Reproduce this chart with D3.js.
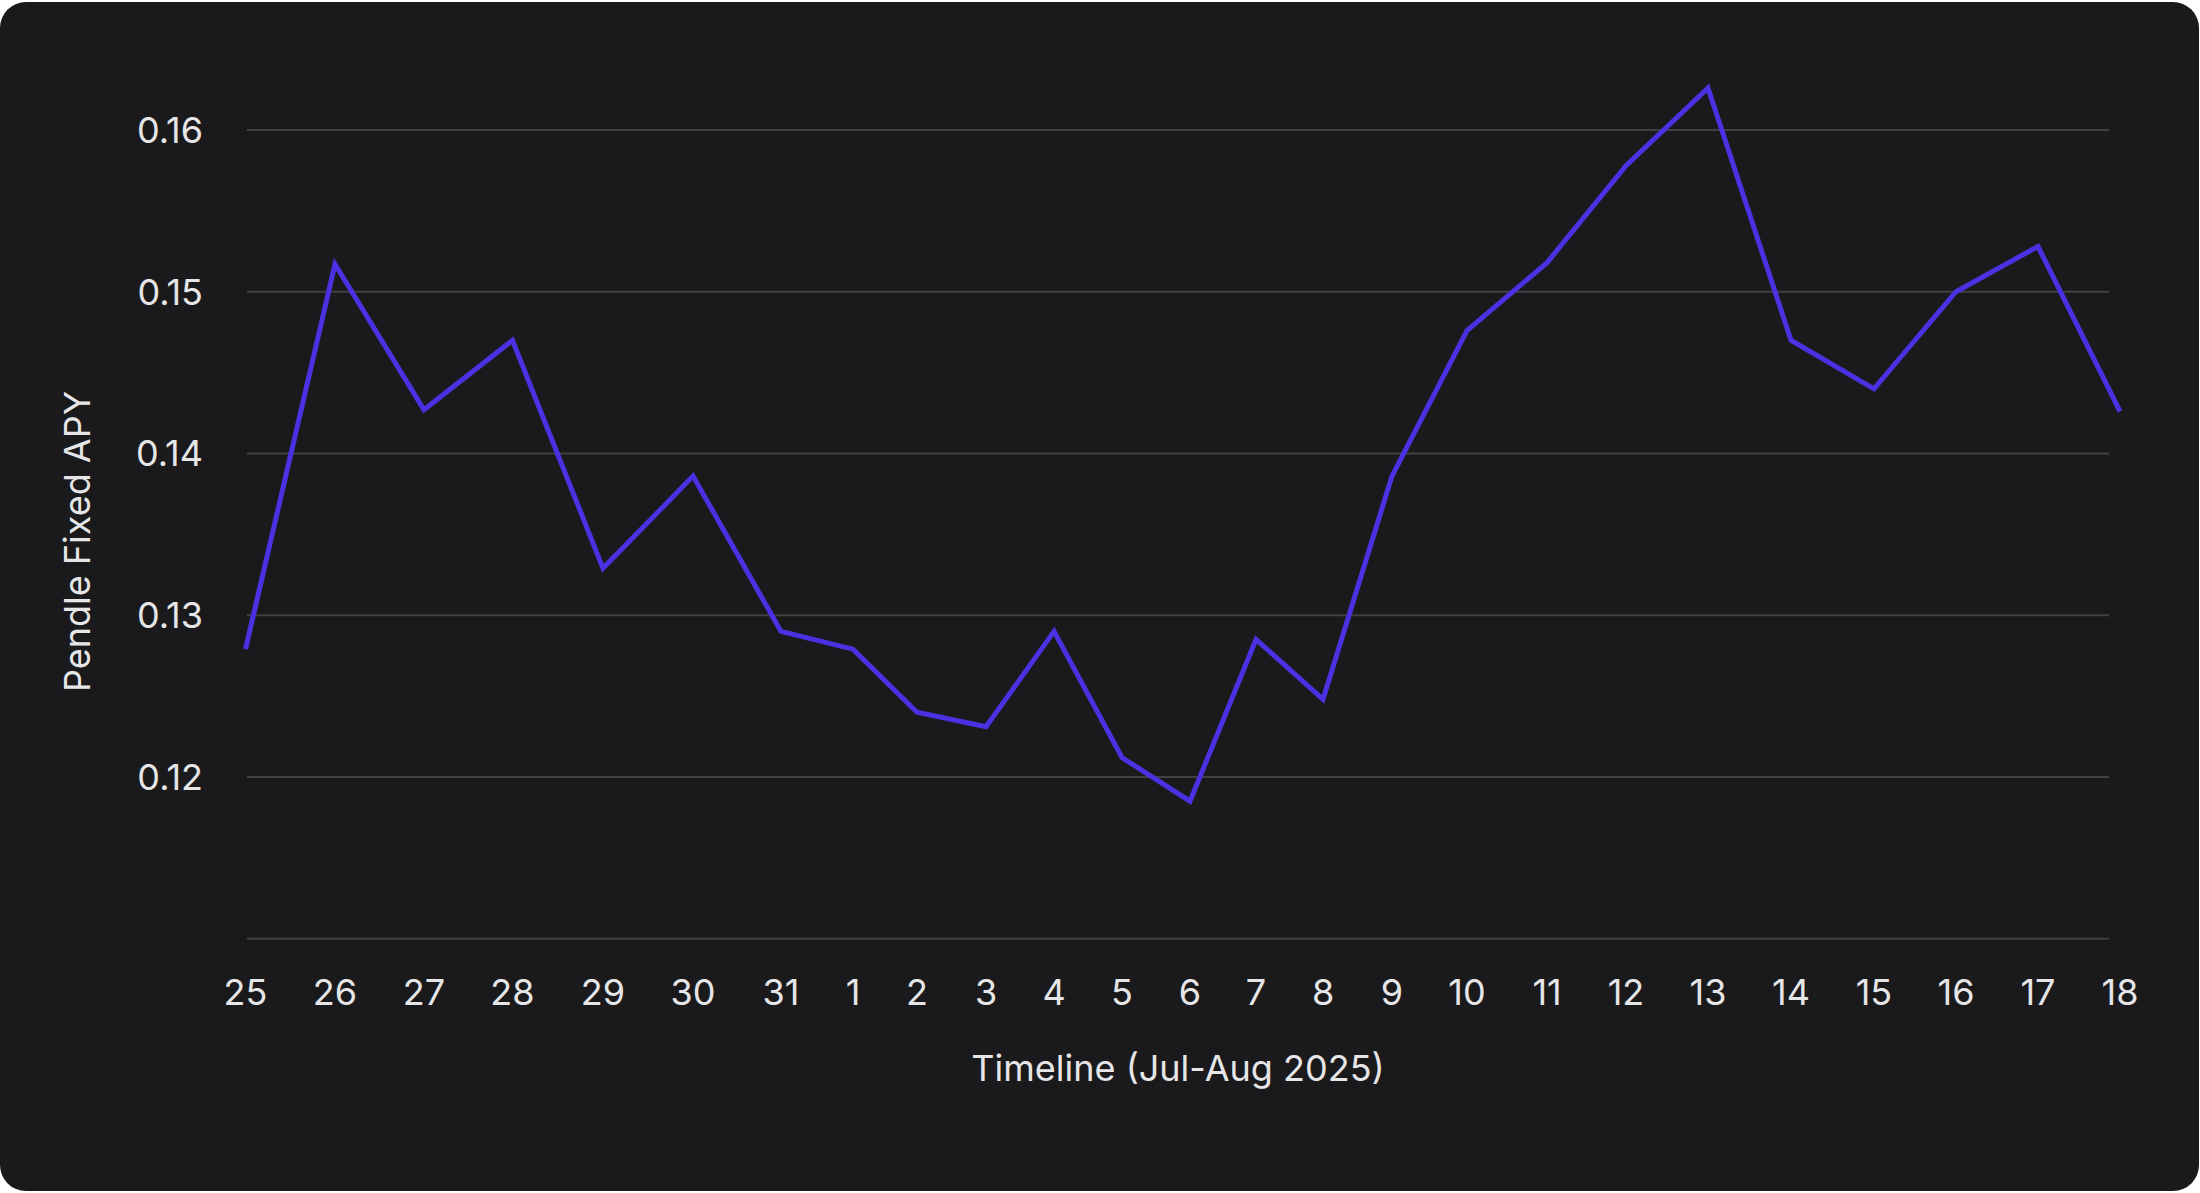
<!DOCTYPE html>
<html>
<head>
<meta charset="utf-8">
<script src="https://cdn.jsdelivr.net/npm/d3@7"></script>
<style>
  html, body { margin: 0; padding: 0; background: #ffffff; }
  svg { display: block; }
  text { font-family: Inter, "Noto Sans", sans-serif; }
</style>
</head>
<body>
<svg id="chart" width="2200" height="1193"></svg>
<script>
// ---- data ----
const dayLabels = ["25","26","27","28","29","30","31","1","2","3","4","5","6","7","8","9","10","11","12","13","14","15","16","17","18"];
// sample time in days since Jul 25 (samples are not evenly spaced)
const sampleTime = [0, 1.146, 2.285, 3.418, 4.577, 5.730, 6.856, 7.778, 8.597, 9.481, 10.352, 11.222, 12.093, 12.938, 13.796, 14.679, 15.639, 16.664, 17.675, 18.725, 19.788, 20.850, 21.900, 22.950, 24.000];
const fixedApy = [0.1279, 0.1517, 0.1427, 0.1470, 0.1329, 0.1386, 0.1290, 0.1279, 0.1240, 0.1231, 0.1290, 0.1212, 0.1185, 0.1285, 0.1248, 0.1386, 0.1476, 0.1518, 0.1578, 0.1626, 0.1470, 0.1440, 0.1500, 0.1528, 0.1426];
const gridTicks = [0.11, 0.12, 0.13, 0.14, 0.15, 0.16];
const labelTicks = [0.12, 0.13, 0.14, 0.15, 0.16];
const xTitle = "Timeline (Jul-Aug 2025)";
const yTitle = "Pendle Fixed APY";

// ---- layout ----
const svg = d3.select("#chart");
const W = 2200, H = 1193;
const gridLeft = 247, gridRight = 2109;
const plotTop = 130, plotBottom = 938.7;

svg.append("rect")
  .attr("x", 0).attr("y", 2).attr("width", 2199).attr("height", 1189)
  .attr("rx", 26).attr("ry", 26)
  .attr("fill", "#1a1a1c");

const x = d3.scaleLinear().domain([0, 24]).range([245.5, 2120]);
const y = d3.scaleLinear().domain([0.11, 0.16]).range([plotBottom, plotTop]);

// gridlines
svg.append("g").selectAll("line").data(gridTicks).join("line")
  .attr("x1", gridLeft).attr("x2", gridRight)
  .attr("y1", d => y(d)).attr("y2", d => y(d))
  .attr("stroke", "#414144").attr("stroke-width", 2);

// y tick labels
svg.append("g").selectAll("text").data(labelTicks).join("text")
  .attr("x", 203).attr("y", d => y(d))
  .attr("dy", "0.36em")
  .attr("text-anchor", "end")
  .attr("fill", "#e6e6e8")
  .attr("font-size", 36)
  .text(d => d3.format(".2f")(d));

// x tick labels
svg.append("g").selectAll("text").data(dayLabels).join("text")
  .attr("x", (d, i) => x(sampleTime[i]))
  .attr("y", 1005)
  .attr("text-anchor", "middle")
  .attr("fill", "#e6e6e8")
  .attr("font-size", 36)
  .text(d => d);

// line
const pts = fixedApy.map((v, i) => [sampleTime[i], v]);
svg.append("path")
  .datum(pts)
  .attr("fill", "none")
  .attr("stroke", "#4a32e2")
  .attr("stroke-width", 5)
  .attr("stroke-linejoin", "miter")
  .attr("stroke-miterlimit", 10)
  .attr("d", d3.line().x(d => x(d[0])).y(d => y(d[1])));

// axis titles
svg.append("text")
  .attr("x", (gridLeft + gridRight) / 2).attr("y", 1080.7)
  .attr("text-anchor", "middle")
  .attr("fill", "#e6e6e8")
  .attr("font-size", 36)
  .text(xTitle);

svg.append("text")
  .attr("transform", "translate(90," + 541.5 + ") rotate(-90)")
  .attr("text-anchor", "middle")
  .attr("fill", "#e6e6e8")
  .attr("font-size", 36)
  .text(yTitle);
</script>
</body>
</html>
